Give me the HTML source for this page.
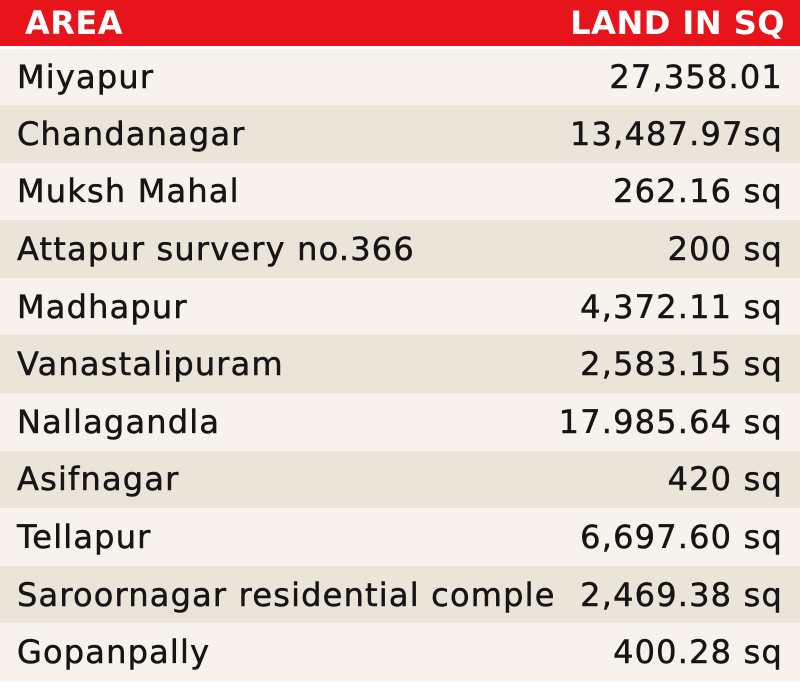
<!DOCTYPE html>
<html><head><meta charset="utf-8"><style>
html,body{margin:0;padding:0;width:800px;height:683px;overflow:hidden;background:#fff;}
table{border-collapse:collapse;width:800px;font-family:"DejaVu Sans","Liberation Sans",sans-serif;}
th{background:#e8141c;color:#fff;height:46px;font-size:32px;font-weight:bold;padding:0;border-bottom:3px solid #fff;letter-spacing:0.5px;}
th.a{text-align:left;padding-left:25px;}
th.b{text-align:right;padding-right:15px;}
td{height:57.6px;padding:0;font-size:32px;color:#151515;white-space:nowrap;box-sizing:border-box;letter-spacing:1.2px;-webkit-text-stroke:0.5px #151515;}
td.a{padding-left:17px;}
td.b{text-align:right;padding-right:17px;}
tr.o td{background:#f7f2eb;}
tr.e td{background:#ebe4d9;}
</style></head><body>
<table>
<tr><th class="a">AREA</th><th class="b">LAND IN SQ</th></tr>
<tr class="o"><td class="a">Miyapur</td><td class="b">27,358.01</td></tr>
<tr class="e"><td class="a">Chandanagar</td><td class="b">13,487.97sq</td></tr>
<tr class="o"><td class="a">Muksh Mahal</td><td class="b">262.16 sq</td></tr>
<tr class="e"><td class="a">Attapur survery no.366</td><td class="b">200 sq</td></tr>
<tr class="o"><td class="a">Madhapur</td><td class="b">4,372.11 sq</td></tr>
<tr class="e"><td class="a">Vanastalipuram</td><td class="b">2,583.15 sq</td></tr>
<tr class="o"><td class="a">Nallagandla</td><td class="b">17.985.64 sq</td></tr>
<tr class="e"><td class="a">Asifnagar</td><td class="b">420 sq</td></tr>
<tr class="o"><td class="a">Tellapur</td><td class="b">6,697.60 sq</td></tr>
<tr class="e"><td class="a">Saroornagar residential comple</td><td class="b" style="padding-left:2px">2,469.38 sq</td></tr>
<tr class="o"><td class="a">Gopanpally</td><td class="b">400.28 sq</td></tr>
</table>
</body></html>
